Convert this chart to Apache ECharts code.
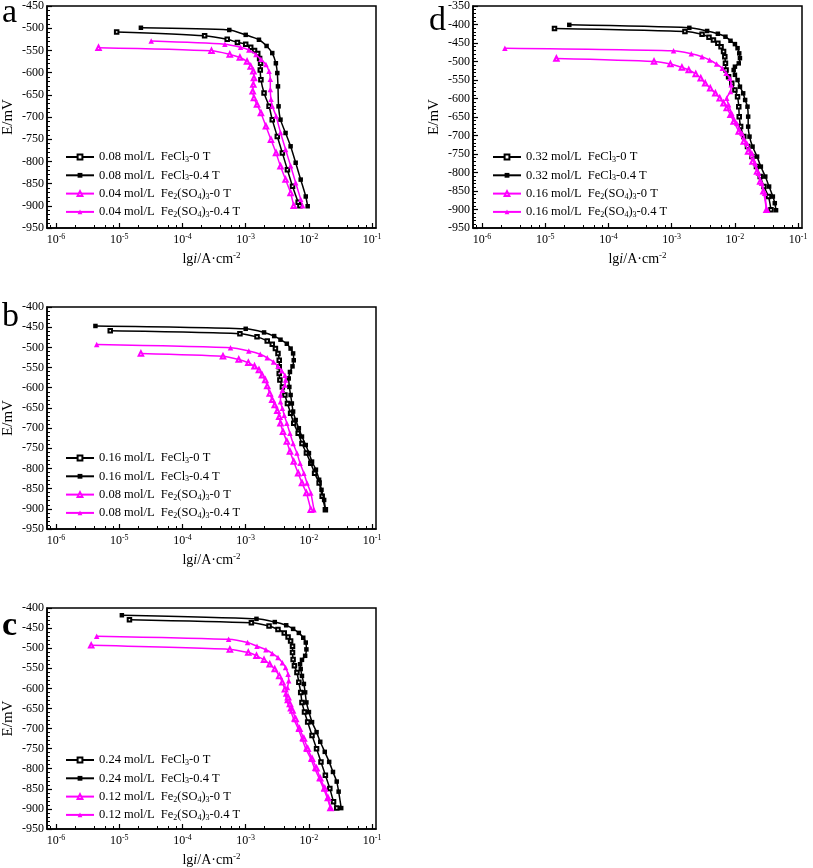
<!DOCTYPE html>
<html><head><meta charset="utf-8">
<script src="https://cdn.jsdelivr.net/npm/echarts@6/dist/echarts.min.js"></script>
<style>html,body{margin:0;padding:0;background:#fff}#c{width:813px;height:868px}</style>
</head><body><div id="c"></div>
<script>
// ---- tick values ----
const xMajorTicks = [1e-6, 1e-5, 1e-4, 1e-3, 1e-2, 1e-1];
const xMinorTicks = [8e-7, 2e-6, 4e-6, 6e-6, 8e-6, 2e-5, 4e-5, 6e-5, 8e-5, 2e-4, 4e-4, 6e-4, 8e-4,
  2e-3, 4e-3, 6e-3, 8e-3, 2e-2, 4e-2, 6e-2, 8e-2];
const xMin = 7.2e-7, xMax = 0.115;

// ---- panel a ----
const a_names = ['0.08 mol/L  FeCl3-0 T', '0.08 mol/L  FeCl3-0.4 T', '0.04 mol/L  Fe2(SO4)3-0 T', '0.04 mol/L  Fe2(SO4)3-0.4 T'];
const a_Cl_0 = [[9.1e-6,-508.5],[2.24e-4,-517],[5.1e-4,-525],[7.4e-4,-532],[1.0e-3,-536],[1.2e-3,-543],[1.38e-3,-550],[1.55e-3,-557],[1.66e-3,-568],[1.72e-3,-579],[1.7e-3,-594],[1.74e-3,-616],[1.95e-3,-646],[2.34e-3,-676],[2.63e-3,-706],[3.16e-3,-744],[3.8e-3,-781],[4.57e-3,-819],[5.5e-3,-856],[6.76e-3,-892],[7.2e-3,-900]];
const a_Cl_04 = [[2.2e-5,-499],[5.5e-4,-504],[1.0e-3,-515],[1.62e-3,-526],[2.14e-3,-540],[2.63e-3,-556],[3.0e-3,-579],[3.16e-3,-601],[3.24e-3,-631],[3.31e-3,-676],[3.55e-3,-706],[4.27e-3,-736],[5.13e-3,-766],[6.17e-3,-803],[7.41e-3,-841],[8.91e-3,-879],[9.55e-3,-901]];
const a_SO4_0 = [[4.7e-6,-544],[2.88e-4,-551],[5.6e-4,-559],[8.1e-4,-566],[1.05e-3,-575],[1.2e-3,-586],[1.32e-3,-597],[1.35e-3,-612],[1.32e-3,-627],[1.29e-3,-642],[1.35e-3,-657],[1.51e-3,-672],[1.74e-3,-691],[2.09e-3,-721],[2.51e-3,-751],[3.02e-3,-781],[3.55e-3,-811],[4.27e-3,-841],[5.13e-3,-871],[5.75e-3,-900]];
const a_SO4_04 = [[3.2e-5,-529],[4.68e-4,-536],[8.3e-4,-543],[1.12e-3,-549],[1.45e-3,-559],[1.74e-3,-570],[2.09e-3,-582],[2.34e-3,-597],[2.45e-3,-615],[2.45e-3,-638],[2.51e-3,-660],[2.63e-3,-675],[3.02e-3,-698],[3.55e-3,-735],[4.27e-3,-773],[5.13e-3,-810],[6.17e-3,-848],[7.41e-3,-885],[7.94e-3,-900]];

// ---- panel b ----
const b_names = ['0.16 mol/L  FeCl3-0 T', '0.16 mol/L  FeCl3-0.4 T', '0.08 mol/L  Fe2(SO4)3-0 T', '0.08 mol/L  Fe2(SO4)3-0.4 T'];
const b_Cl_0 = [[7.2e-6,-459],[8.1e-4,-466],[1.51e-3,-474],[2.19e-3,-484],[2.63e-3,-492],[2.95e-3,-503],[3.24e-3,-515],[3.39e-3,-532],[3.39e-3,-548],[3.39e-3,-565],[3.47e-3,-581],[3.8e-3,-598],[4.17e-3,-618],[4.57e-3,-639],[5.13e-3,-663],[5.75e-3,-688],[6.76e-3,-713],[7.76e-3,-738],[9.12e-3,-762],[1.07e-2,-787],[1.23e-2,-812],[1.45e-2,-836],[1.62e-2,-869],[1.82e-2,-902]];
const b_Cl_04 = [[4.2e-6,-447],[1.0e-3,-454],[1.95e-3,-463],[2.82e-3,-472],[3.55e-3,-481],[4.47e-3,-491],[5.13e-3,-503],[5.62e-3,-515],[5.75e-3,-532],[5.5e-3,-547],[5.01e-3,-561],[4.79e-3,-577],[4.9e-3,-598],[5.13e-3,-618],[5.37e-3,-639],[5.62e-3,-659],[6.17e-3,-680],[6.92e-3,-700.5],[7.76e-3,-721],[8.91e-3,-742],[1.0e-2,-762],[1.12e-2,-783],[1.29e-2,-803],[1.45e-2,-828],[1.58e-2,-853],[1.74e-2,-878],[1.82e-2,-902]];
const b_SO4_0 = [[2.2e-5,-515],[4.37e-4,-522],[7.76e-4,-530],[1.1e-3,-538],[1.38e-3,-547],[1.62e-3,-556],[1.82e-3,-569],[2.04e-3,-581],[2.19e-3,-596],[2.4e-3,-614],[2.63e-3,-630],[2.88e-3,-643],[3.16e-3,-657],[3.39e-3,-672],[3.55e-3,-688],[3.89e-3,-709],[4.47e-3,-733],[5.01e-3,-758],[5.75e-3,-783],[6.76e-3,-812],[7.76e-3,-836],[9.12e-3,-861],[1.07e-2,-902]];
const b_SO4_04 = [[4.4e-6,-493],[5.75e-4,-501],[1.12e-3,-509],[1.7e-3,-517],[2.19e-3,-526],[2.75e-3,-536],[3.24e-3,-547],[3.72e-3,-558],[4.17e-3,-569],[4.27e-3,-581],[4.17e-3,-593.5],[3.8e-3,-606],[3.55e-3,-618],[3.55e-3,-635],[3.8e-3,-651],[4.07e-3,-668],[4.47e-3,-688],[5.01e-3,-713],[5.62e-3,-738],[6.46e-3,-762],[7.24e-3,-787],[8.32e-3,-812],[9.33e-3,-836],[1.07e-2,-861],[1.2e-2,-902]];

// ---- panel c ----
const c_names = ['0.24 mol/L  FeCl3-0 T', '0.24 mol/L  FeCl3-0.4 T', '0.12 mol/L  Fe2(SO4)3-0 T', '0.12 mol/L  Fe2(SO4)3-0.4 T'];
const c_Cl_0 = [[1.45e-5,-429],[1.23e-3,-437],[2.34e-3,-445],[3.24e-3,-453.5],[4.07e-3,-462],[4.68e-3,-472],[5.13e-3,-482],[5.5e-3,-495],[5.5e-3,-511],[5.62e-3,-528],[5.89e-3,-544],[6.46e-3,-560.5],[6.92e-3,-585],[7.41e-3,-610],[7.76e-3,-635],[8.51e-3,-659],[9.55e-3,-684],[1.12e-2,-717],[1.32e-2,-750],[1.55e-2,-783],[1.82e-2,-816],[2.14e-2,-849],[2.45e-2,-882],[2.75e-2,-898]];
const c_Cl_04 = [[1.1e-5,-418],[1.48e-3,-427],[2.88e-3,-435],[4.37e-3,-443],[5.62e-3,-452],[6.92e-3,-462],[8.13e-3,-474],[8.91e-3,-486],[9.12e-3,-503],[8.71e-3,-519],[7.76e-3,-529],[7.24e-3,-540],[7.41e-3,-552],[7.76e-3,-569],[8.32e-3,-589],[8.71e-3,-610],[9.12e-3,-635],[1.0e-2,-659],[1.12e-2,-684],[1.32e-2,-709],[1.51e-2,-733],[1.78e-2,-758],[2.09e-2,-783],[2.4e-2,-808],[2.75e-2,-832],[2.95e-2,-857],[3.24e-2,-898]];
const c_SO4_0 = [[3.6e-6,-493],[5.62e-4,-503],[1.1e-3,-511],[1.48e-3,-519],[1.95e-3,-529],[2.4e-3,-540],[2.88e-3,-552],[3.39e-3,-569],[3.8e-3,-585],[4.17e-3,-602],[4.68e-3,-622],[5.01e-3,-639],[5.5e-3,-655],[6.17e-3,-676],[7.08e-3,-700.5],[8.32e-3,-725],[9.55e-3,-750],[1.12e-2,-775],[1.32e-2,-799],[1.51e-2,-824],[1.78e-2,-849],[2.0e-2,-873],[2.19e-2,-898]];
const c_SO4_04 = [[4.4e-6,-470],[5.37e-4,-478],[1.07e-3,-486],[1.51e-3,-495],[2.09e-3,-504],[2.63e-3,-513],[3.24e-3,-523.5],[3.8e-3,-536],[4.27e-3,-548],[4.68e-3,-565],[4.79e-3,-581],[4.57e-3,-598],[4.27e-3,-614],[4.47e-3,-630.5],[5.01e-3,-651],[5.75e-3,-676],[6.76e-3,-700.5],[7.76e-3,-725],[8.91e-3,-750],[1.07e-2,-775],[1.23e-2,-799],[1.45e-2,-824],[1.7e-2,-849],[1.95e-2,-873],[2.19e-2,-898]];

// ---- panel d ----
const d_names = ['0.32 mol/L  FeCl3-0 T', '0.32 mol/L  FeCl3-0.4 T', '0.16 mol/L  Fe2(SO4)3-0 T', '0.16 mol/L  Fe2(SO4)3-0.4 T'];
const d_Cl_0 = [[1.4e-5,-411],[1.62e-3,-419],[3.02e-3,-426.5],[3.89e-3,-434.6],[4.57e-3,-442],[5.37e-3,-451],[6.03e-3,-460],[6.61e-3,-473],[6.92e-3,-487],[7.08e-3,-505],[7.24e-3,-523],[7.94e-3,-541],[8.91e-3,-559],[1.0e-2,-577],[1.1e-2,-595],[1.15e-2,-622],[1.17e-2,-649],[1.23e-2,-676],[1.38e-2,-703],[1.58e-2,-730],[1.86e-2,-757],[2.19e-2,-784],[2.51e-2,-811],[2.88e-2,-838],[3.39e-2,-865],[3.72e-2,-901]];
const d_Cl_04 = [[2.4e-5,-401],[1.9e-3,-409],[3.63e-3,-417.5],[5.37e-3,-425],[7.08e-3,-433],[8.51e-3,-444],[1.0e-2,-453],[1.1e-2,-464],[1.17e-2,-478],[1.2e-2,-491],[1.15e-2,-505],[1.0e-2,-514],[9.55e-3,-523],[1.0e-2,-536],[1.1e-2,-550],[1.2e-2,-568],[1.35e-2,-586],[1.45e-2,-604],[1.58e-2,-622],[1.62e-2,-649],[1.62e-2,-676],[1.7e-2,-703],[1.9e-2,-730],[2.24e-2,-757],[2.57e-2,-784],[3.02e-2,-811],[3.47e-2,-838],[3.98e-2,-865],[4.27e-2,-883],[4.47e-2,-902]];
const d_SO4_0 = [[1.5e-5,-492],[5.25e-4,-500],[9.55e-4,-507],[1.45e-3,-516],[1.86e-3,-523],[2.4e-3,-533.5],[2.88e-3,-545],[3.39e-3,-559],[4.07e-3,-572],[4.9e-3,-586],[5.75e-3,-599],[6.61e-3,-613],[7.41e-3,-626],[8.51e-3,-644],[9.55e-3,-662],[1.15e-2,-689],[1.38e-2,-716],[1.62e-2,-743],[1.9e-2,-770],[2.24e-2,-797],[2.51e-2,-824],[2.82e-2,-851],[3.16e-2,-901]];
const d_SO4_04 = [[2.3e-6,-464],[1.07e-3,-471],[2.04e-3,-479],[3.02e-3,-487],[3.98e-3,-496],[5.13e-3,-507],[6.31e-3,-518],[7.24e-3,-532],[8.32e-3,-545],[8.71e-3,-563],[8.51e-3,-581],[7.41e-3,-599],[7.94e-3,-617],[8.91e-3,-640],[1.07e-2,-667],[1.29e-2,-694],[1.55e-2,-721],[1.86e-2,-748],[2.09e-2,-775],[2.34e-2,-802],[2.63e-2,-829],[2.95e-2,-856],[3.16e-2,-901]];

const yMaxA = -450, yMaxB = -400, yMaxC = -400, yMaxD = -350, yMin = -950;

// ---- layout / style ----
const FONT = '"Liberation Serif", "Times New Roman", serif';
const panels = [
  {letter: 'a', bold: false, grid: {left: 46, top: 6, width: 330, height: 222}, ymax: yMaxA, names: a_names, data: [a_Cl_0, a_Cl_04, a_SO4_0, a_SO4_04], legend: {left: 65, top: 150}, lx: 2, ly: 13},
  {letter: 'd', bold: false, grid: {left: 473, top: 6, width: 329, height: 222}, ymax: yMaxD, names: d_names, data: [d_Cl_0, d_Cl_04, d_SO4_0, d_SO4_04], legend: {left: 492, top: 150}, lx: 429, ly: 21},
  {letter: 'b', bold: false, grid: {left: 46, top: 307, width: 330, height: 222}, ymax: yMaxB, names: b_names, data: [b_Cl_0, b_Cl_04, b_SO4_0, b_SO4_04], legend: {left: 65, top: 451}, lx: 2, ly: 317},
  {letter: 'c', bold: true, grid: {left: 46, top: 608, width: 330, height: 223}, ymax: yMaxC, names: c_names, data: [c_Cl_0, c_Cl_04, c_SO4_0, c_SO4_04], legend: {left: 65, top: 753}, lx: 2, ly: 626}
];
const styles = [
  {color: '#000', symbol: 'emptyRect', size: 3.5, bw: 0.9},
  {color: '#000', symbol: 'rect', size: 4.5, bw: 0},
  {color: '#ff00ff', symbol: 'emptyTriangle', size: 4.5, bw: 0.9},
  {color: '#ff00ff', symbol: 'triangle', size: 5.5, bw: 0}
];
const subRich = {
  sub: {fontSize: 8, fontFamily: FONT, color: '#000', verticalAlign: 'bottom', lineHeight: 14}
};
function richName(n) {
  return n.replace('Fe2(SO4)3', 'Fe{sub|2}(SO{sub|4}){sub|3}').replace('FeCl3', 'FeCl{sub|3}');
}

const grid = [], xAxis = [], yAxis = [], series = [], legend = [], graphic = [];
panels.forEach((p, k) => {
  grid.push(Object.assign({show: true, borderColor: '#000', borderWidth: 1.5, backgroundColor: 'transparent'}, p.grid));
  xAxis.push({
    type: 'log', gridIndex: k, position: 'bottom', min: xMin, max: xMax, logBase: 10,
    axisLine: {show: true, onZero: false, lineStyle: {color: '#000', width: 1.5}},
    axisTick: {show: true, inside: true, length: 5, customValues: xMajorTicks, lineStyle: {color: '#000', width: 1.2}},
    axisLabel: {
      show: true, margin: 5, customValues: xMajorTicks, color: '#000', fontFamily: FONT, fontSize: 12,
      formatter: v => '10{sup|' + Math.round(Math.log10(v)) + '}',
      rich: {sup: {fontSize: 8, fontFamily: FONT, color: '#000', verticalAlign: 'top', lineHeight: 14}}
    },
    splitLine: {show: false}, minorTick: {show: false},
    name: '{n|lg}{i|i}{n|/A·cm}{s|-2}', nameLocation: 'middle', nameGap: 23,
    nameTextStyle: {
      color: '#000', fontFamily: FONT, fontSize: 14,
      rich: {
        n: {fontSize: 14, fontFamily: FONT, color: '#000', lineHeight: 16},
        i: {fontSize: 14, fontFamily: FONT, fontStyle: 'italic', color: '#000', lineHeight: 16},
        s: {fontSize: 9, fontFamily: FONT, color: '#000', verticalAlign: 'top', lineHeight: 16}
      }
    }
  });
  xAxis.push({
    type: 'log', gridIndex: k, position: 'bottom', min: xMin, max: xMax, logBase: 10,
    axisLine: {show: false, onZero: false},
    axisTick: {show: true, inside: true, length: 3, customValues: xMinorTicks, lineStyle: {color: '#000', width: 1}},
    axisLabel: {show: false}, splitLine: {show: false}
  });
  yAxis.push({
    type: 'value', gridIndex: k, min: yMin, max: p.ymax, interval: 50,
    axisLine: {show: true, onZero: false, lineStyle: {color: '#000', width: 1.5}},
    axisTick: {show: true, inside: true, length: 5, lineStyle: {color: '#000', width: 1.2}},
    minorTick: {show: true, splitNumber: 5, length: 3, lineStyle: {color: '#000', width: 1}},
    axisLabel: {margin: 3, color: '#000', fontFamily: FONT, fontSize: 12},
    splitLine: {show: false},
    name: 'E/mV', nameLocation: 'middle', nameGap: 31,
    nameTextStyle: {color: '#000', fontFamily: FONT, fontSize: 15}
  });
  p.data.forEach((d, j) => {
    const s = styles[j];
    series.push({
      type: 'line', name: p.names[j], xAxisIndex: 2 * k, yAxisIndex: k, data: d,
      symbol: s.symbol, symbolSize: s.size, smooth: 0.25,
      lineStyle: {color: s.color, width: 1.5},
      itemStyle: {color: s.color, borderColor: s.color, borderWidth: s.bw},
      emphasis: {disabled: true}, z: 2 + j
    });
  });
  legend.push({
    data: p.names, left: p.legend.left, top: p.legend.top, orient: 'vertical',
    itemWidth: 28, itemHeight: 6, itemGap: 4.3, padding: 0,
    selectedMode: false,
    formatter: richName,
    textStyle: {color: '#000', fontFamily: FONT, fontSize: 12.5, lineHeight: 14, rich: subRich}
  });
  graphic.push({
    type: 'text', x: p.lx, y: p.ly,
    style: {text: p.letter, font: (p.bold ? 'bold ' : '') + '34px ' + FONT, fill: '#000', verticalAlign: 'middle', align: 'left'}
  });
});

const chart = echarts.init(document.getElementById('c'), null, {renderer: 'canvas'});
chart.setOption({
  animation: false, backgroundColor: '#fff',
  grid, xAxis, yAxis, series, legend, graphic
});
</script>
</body></html>
